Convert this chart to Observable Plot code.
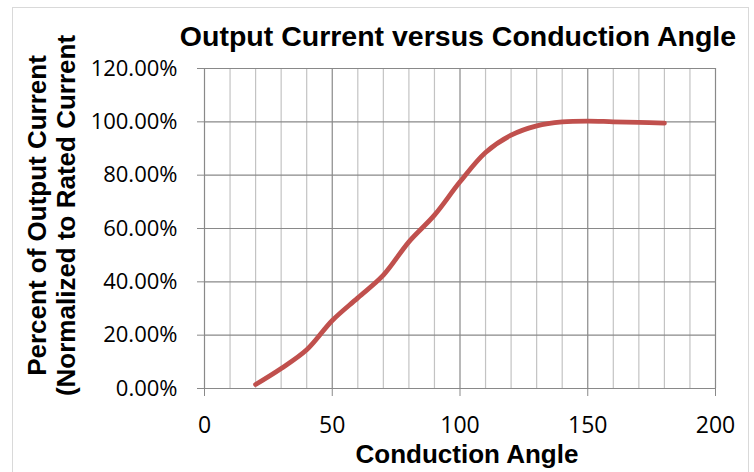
<!DOCTYPE html>
<html>
<head>
<meta charset="utf-8">
<script src="https://cdn.jsdelivr.net/npm/d3@7"></script>
<script src="https://cdn.jsdelivr.net/npm/@observablehq/plot@0.6"></script>
<style>
  html, body { margin: 0; padding: 0; background: #fff; }
  #wrap { position: relative; width: 754px; height: 472px; overflow: hidden; }
  #border { position: absolute; left: 12px; top: 7px; width: 735px; height: 490px; border: 1px solid #d9d9d9; pointer-events: none; }
</style>
</head>
<body>
<div id="wrap"><div id="border"></div></div>
<script>
const angle = [20, 30, 40, 50, 60, 70, 80, 90, 100, 110, 120, 130, 140, 150, 160, 170, 180];
const percent = [1.5, 7.5, 14.5, 25.5, 34, 42.5, 55, 65, 77.5, 88.5, 95, 98.5, 100, 100.3, 100, 99.8, 99.5];
const xTicks = [0, 50, 100, 150, 200];
const xMinor = [0, 10, 20, 30, 40, 50, 60, 70, 80, 90, 100, 110, 120, 130, 140, 150, 160, 170, 180, 190, 200];
const yTicks = [0, 20, 40, 60, 80, 100, 120];
const title = "Output Current versus Conduction Angle";
const xLabel = "Conduction Angle";
const yLabel1 = "Percent of Output Current";
const yLabel2 = "(Normalized to Rated Current";

const data = angle.map((a, i) => ({angle: a, pct: percent[i]}));
const bold = {fontWeight: "bold", fontFamily: "'Liberation Sans', Arial, sans-serif", fill: "#000", lineAnchor: "middle", textAnchor: "middle"};

const chart = Plot.plot({
  width: 754,
  height: 472,
  marginLeft: 204,
  marginRight: 39,
  marginTop: 68,
  marginBottom: 84,
  style: {background: "transparent", fontFamily: "'Open Sans', sans-serif", overflow: "visible"},
  x: {domain: [0, 200]},
  y: {domain: [0, 120]},
  marks: [
    Plot.ruleX(xMinor.filter(d => !xTicks.includes(d)), {stroke: "#c3c3c3", strokeWidth: 1.2}),
    Plot.ruleX(xTicks, {stroke: "#898989", strokeWidth: 1.2}),
    Plot.ruleY(yTicks, {stroke: "#898989", strokeWidth: 1.2}),
    Plot.axisX({ticks: xTicks, tickSize: 8, tickPadding: 20, fontSize: 23, stroke: "#898989", fill: "#000", label: null, tickFormat: d => String(d)}),
    Plot.axisY({ticks: yTicks, tickSize: 7, tickPadding: 20, fontSize: 22, stroke: "#898989", fill: "#000", label: null, tickFormat: d => d.toFixed(2) + "%"}),
    Plot.line(data, {x: "angle", y: "pct", stroke: "#c0504d", strokeWidth: 4.8, curve: "catmull-rom", strokeLinecap: "round"}),
    Plot.text([title], {...bold, frameAnchor: "top", dx: -2, dy: -32, fontSize: 28.5}),
    Plot.text([xLabel], {...bold, frameAnchor: "bottom", dx: 7, dy: 66, fontSize: 26}),
    Plot.text([yLabel1], {...bold, frameAnchor: "left", dx: -167, dy: -13, rotate: -90, fontSize: 26}),
    Plot.text([yLabel2], {...bold, frameAnchor: "left", dx: -138, dy: -13, rotate: -90, fontSize: 26})
  ]
});
document.getElementById("wrap").appendChild(chart);
</script>
</body>
</html>
